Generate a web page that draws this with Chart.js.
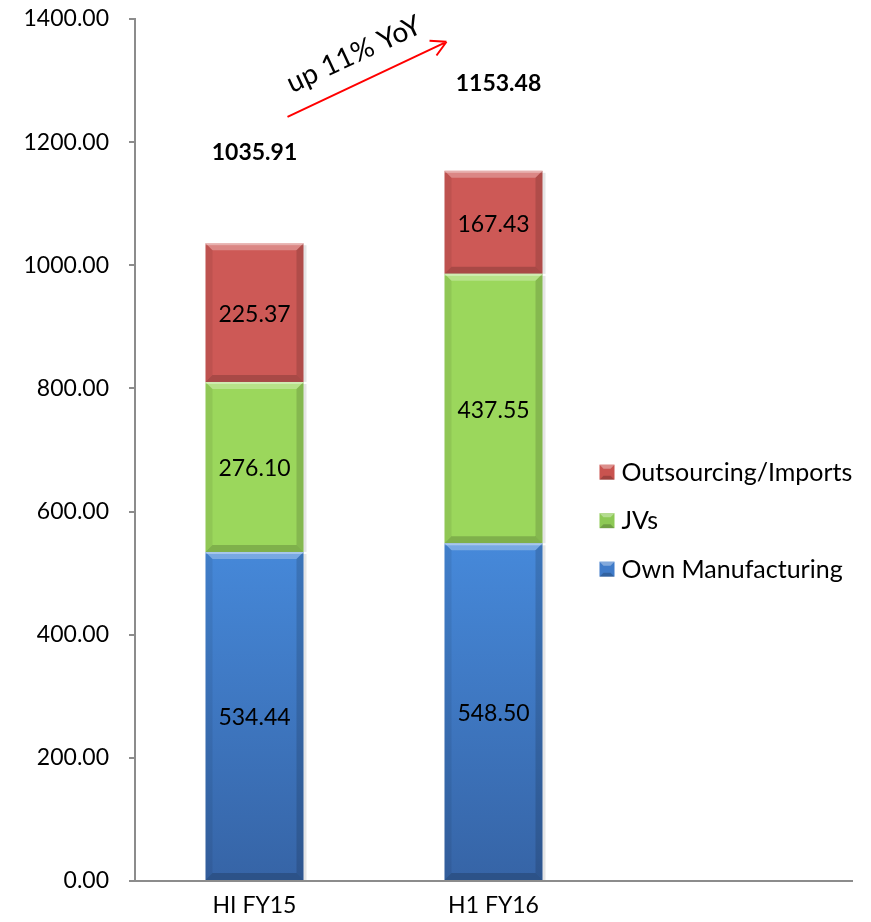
<!DOCTYPE html>
<html lang="en">
<head>
  <meta charset="UTF-8" />
  <title>Sales Mix H1 FY15 vs H1 FY16</title>
  <script src="https://cdn.jsdelivr.net/npm/chart.js"></script>
  <style>
    html, body { margin: 0; padding: 0; background: #fff; }
    .chart-container { width: 871px; height: 922px; position: relative; }
  </style>
</head>
<body>
  <div class="chart-container">
    <canvas id="salesChart"></canvas>
  </div>

  <script>
    const categories = ['HI FY15', 'H1 FY16', ''];
    const ownManufacturing = [534.44, 548.50, null];
    const jvs = [276.10, 437.55, null];
    const outsourcing = [225.37, 167.43, null];
    const totals = [1035.91, 1153.48];
    const growthNote = 'up 11% YoY';

    const FONT = 'Lato, "Open Sans", sans-serif';
    const FS = 23;

    // vertical gradient for a segment, spanning the given value range
    function segGradient(chart, fromVal, toVal, cTop, cBottom) {
      const y = chart.scales.y;
      if (!chart.chartArea || !y) return cTop;
      const p0 = y.getPixelForValue(toVal), p1 = y.getPixelForValue(fromVal);
      if (!isFinite(p0) || !isFinite(p1)) return cTop;
      const g = chart.ctx.createLinearGradient(0, p0, 0, p1);
      g.addColorStop(0, cTop);
      g.addColorStop(1, cBottom);
      return g;
    }

    // bevel look on each bar segment
    const bevelPlugin = {
      id: 'bevel',
      afterDatasetsDraw(chart) {
        const ctx = chart.ctx;
        chart.data.datasets.forEach((ds, di) => {
          const meta = chart.getDatasetMeta(di);
          meta.data.forEach((bar, i) => {
            if (ds.data[i] == null) return;
            const p = bar.getProps(['x', 'y', 'base', 'width'], true);
            const l = p.x - p.width / 2, r = p.x + p.width / 2;
            const t = p.y, b = p.base, s = 7;
            ctx.save();
            // top bevel
            ctx.fillStyle = 'rgba(255,255,255,0.28)';
            ctx.beginPath();
            ctx.moveTo(l, t); ctx.lineTo(r, t); ctx.lineTo(r - s, t + s); ctx.lineTo(l + s, t + s);
            ctx.closePath(); ctx.fill();
            ctx.fillStyle = 'rgba(255,255,255,0.35)';
            ctx.fillRect(l, t, p.width, 2);
            // bottom bevel
            ctx.fillStyle = 'rgba(0,0,0,0.18)';
            ctx.beginPath();
            ctx.moveTo(l, b); ctx.lineTo(r, b); ctx.lineTo(r - s, b - s); ctx.lineTo(l + s, b - s);
            ctx.closePath(); ctx.fill();
            // sides
            ctx.fillStyle = 'rgba(0,0,0,0.07)';
            ctx.beginPath();
            ctx.moveTo(l, t); ctx.lineTo(l + s, t + s); ctx.lineTo(l + s, b - s); ctx.lineTo(l, b);
            ctx.closePath(); ctx.fill();
            ctx.fillStyle = 'rgba(0,0,0,0.14)';
            ctx.beginPath();
            ctx.moveTo(r, t); ctx.lineTo(r - s, t + s); ctx.lineTo(r - s, b - s); ctx.lineTo(r, b);
            ctx.closePath(); ctx.fill();
            // soft shadow on the right
            ctx.fillStyle = 'rgba(0,0,0,0.10)';
            ctx.fillRect(r, t + 2, 3, b - t - 2);
            ctx.restore();
          });
        });
      }
    };

    // segment values, totals, growth arrow and legend
    const labelsPlugin = {
      id: 'labels',
      afterDraw(chart) {
        const ctx = chart.ctx;
        const ys = chart.scales.y;
        ctx.save();
        ctx.textAlign = 'center';
        ctx.textBaseline = 'middle';
        ctx.fillStyle = '#000';
        ctx.font = FS + 'px ' + FONT;
        chart.data.datasets.forEach((ds, di) => {
          const meta = chart.getDatasetMeta(di);
          meta.data.forEach((bar, i) => {
            if (ds.data[i] == null) return;
            const p = bar.getProps(['x', 'y', 'base'], true);
            ctx.fillText(ds.data[i].toFixed(2), p.x, (p.y + p.base) / 2 + 2);
          });
        });

        // totals above the stacks
        const topMeta = chart.getDatasetMeta(chart.data.datasets.length - 1);
        ctx.font = 'bold ' + FS + 'px ' + FONT;
        totals.forEach((v, i) => {
          const bar = topMeta.data[i];
          ctx.fillText(v.toFixed(2), bar.x + (i === 1 ? 5 : 0), ys.getPixelForValue(v) - (i === 1 ? 87 : 91));
        });

        // growth arrow
        const b0 = topMeta.data[0], b1 = topMeta.data[1];
        const x0 = b0.x + 33, y0 = ys.getPixelForValue(1241);
        const x1 = b1.x - 47, y1 = ys.getPixelForValue(1363);
        ctx.strokeStyle = '#FF0000';
        ctx.lineWidth = 2;
        ctx.beginPath();
        ctx.moveTo(x0, y0); ctx.lineTo(x1, y1);
        const ang = Math.atan2(y1 - y0, x1 - x0);
        ctx.moveTo(x1, y1);
        ctx.lineTo(x1 - 17 * Math.cos(ang - 0.5), y1 - 17 * Math.sin(ang - 0.5));
        ctx.moveTo(x1, y1);
        ctx.lineTo(x1 - 17 * Math.cos(ang + 0.5), y1 - 17 * Math.sin(ang + 0.5));
        ctx.stroke();

        ctx.save();
        ctx.translate((x0 + x1) / 2 - 13, (y0 + y1) / 2 - 25);
        ctx.rotate(-25 * Math.PI / 180);
        ctx.font = '28px ' + FONT;
        ctx.fillStyle = '#000';
        ctx.fillText(growthNote, 0, 0);
        ctx.restore();

        // legend (inside the empty third slot)
        const legendX = chart.scales.x.getPixelForValue(2) - 133;
        const rows = [...chart.data.datasets].reverse();
        ctx.textAlign = 'left';
        ctx.font = '25px ' + FONT;
        rows.forEach((ds, k) => {
          const cy = ys.getPixelForValue(660) - 3 + k * 48.5;
          ctx.fillStyle = ds.legendColor;
          ctx.fillRect(legendX, cy - 7, 15, 15);
          ctx.fillStyle = 'rgba(255,255,255,0.35)';
          ctx.beginPath();
          ctx.moveTo(legendX, cy - 7); ctx.lineTo(legendX + 15, cy - 7);
          ctx.lineTo(legendX + 11, cy - 3); ctx.lineTo(legendX + 4, cy - 3);
          ctx.closePath(); ctx.fill();
          ctx.fillStyle = 'rgba(0,0,0,0.2)';
          ctx.beginPath();
          ctx.moveTo(legendX, cy + 8); ctx.lineTo(legendX + 15, cy + 8);
          ctx.lineTo(legendX + 11, cy + 4); ctx.lineTo(legendX + 4, cy + 4);
          ctx.closePath(); ctx.fill();
          ctx.fillStyle = '#000';
          ctx.fillText(ds.label, legendX + 22, cy + 1);
        });
        ctx.restore();
      }
    };

    const data = {
      labels: categories,
      datasets: [
        {
          label: 'Own Manufacturing',
          data: ownManufacturing,
          legendColor: '#3F7BC9',
          backgroundColor: (c) => segGradient(c.chart, 0, 550, '#4689DA', '#3664A6')
        },
        {
          label: 'JVs',
          data: jvs,
          legendColor: '#8DC955',
          backgroundColor: '#9BD75C'
        },
        {
          label: 'Outsourcing/Imports',
          data: outsourcing,
          legendColor: '#C9534F',
          backgroundColor: '#CD5956'
        }
      ]
    };

    const config = {
      type: 'bar',
      data: data,
      options: {
        responsive: true,
        maintainAspectRatio: false,
        animation: false,
        datasets: {
          bar: {
            barPercentage: 0.41,
            categoryPercentage: 1.0,
            borderWidth: 0
          }
        },
        layout: { padding: { top: 19, right: 19, left: 0, bottom: 0 } },
        plugins: {
          legend: { display: false },
          tooltip: { enabled: false }
        },
        scales: {
          x: {
            stacked: true,
            afterFit: (s) => { s.height = 41; },
            grid: { display: false, drawTicks: false },
            border: { color: '#8C8C8C', width: 2 },
            ticks: {
              color: '#000',
              padding: 11,
              font: { size: FS, family: FONT }
            }
          },
          y: {
            stacked: true,
            min: 0,
            max: 1400,
            afterFit: (s) => {
              s.width = 135;
              s.paddingTop = 4;
              s.paddingBottom = 4;
            },
            grid: {
              drawOnChartArea: false,
              drawTicks: true,
              tickLength: 6,
              color: '#8C8C8C',
              lineWidth: 2
            },
            border: { color: '#8C8C8C', width: 2 },
            ticks: {
              stepSize: 200,
              color: '#000',
              padding: 20,
              font: { size: FS, family: FONT },
              callback: (v) => Number(v).toFixed(2)
            }
          }
        }
      },
      plugins: [bevelPlugin, labelsPlugin]
    };

    new Chart(document.getElementById('salesChart'), config);
  </script>
</body>
</html>
